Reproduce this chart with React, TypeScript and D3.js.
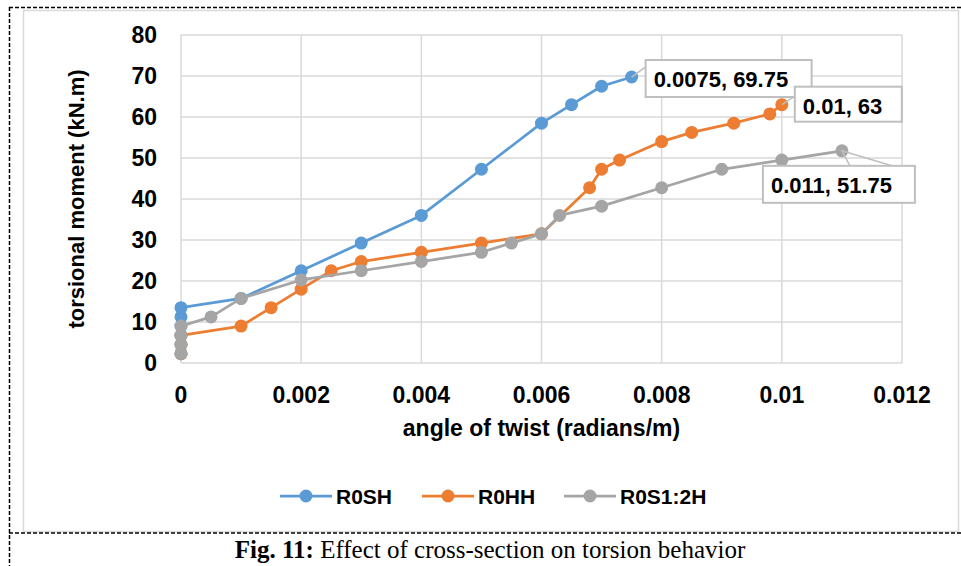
import React from "react";
import * as d3 from "d3";

// torsional moment (kN.m) vs angle of twist (radians/m)
const seriesNames = ["R0SH", "R0HH", "R0S1:2H"];
const seriesColors = ["#5B9BD5", "#ED7D31", "#A5A5A5"];

const twistR0SH = [0, 0, 0, 0, 0, 0, 0.001, 0.002, 0.003, 0.004, 0.005, 0.006, 0.0065, 0.007, 0.0075];
const momentR0SH = [2.25, 4.5, 6.75, 9, 11.25, 13.5, 15.75, 22.5, 29.25, 36, 47.25, 58.5, 63, 67.5, 69.75];

const twistR0HH = [0, 0, 0, 0.001, 0.0015, 0.002, 0.0025, 0.003, 0.004, 0.005, 0.006, 0.0068, 0.007, 0.0073, 0.008, 0.0085, 0.0092, 0.0098, 0.01];
const momentR0HH = [2.25, 4.5, 6.75, 9, 13.5, 18, 22.5, 24.75, 27, 29.25, 31.5, 42.75, 47.25, 49.5, 54, 56.25, 58.5, 60.75, 63];

const twistR0S12H = [0, 0, 0, 0, 0.0005, 0.001, 0.002, 0.003, 0.004, 0.005, 0.0055, 0.006, 0.0063, 0.007, 0.008, 0.009, 0.01, 0.011];
const momentR0S12H = [2.25, 4.5, 6.75, 9, 11.25, 15.75, 20.25, 22.5, 24.75, 27, 29.25, 31.5, 36, 38.25, 42.75, 47.25, 49.5, 51.75];

const xTickValues = [0, 0.002, 0.004, 0.006, 0.008, 0.01, 0.012];
const xTickLabels = ["0", "0.002", "0.004", "0.006", "0.008", "0.01", "0.012"];
const yTickValues = [0, 10, 20, 30, 40, 50, 60, 70, 80];

const endLabels = ["0.0075, 69.75", "0.01, 63", "0.011, 51.75"];

const W = 961;
const H = 566;
const plot = { left: 181, right: 902, top: 35, bottom: 363 };
const sans = "'Liberation Sans', Arial, sans-serif";
const serif = "'Liberation Serif', 'Times New Roman', serif";
const grid = "#d9d9d9";

// callout boxes, placed relative to the last point of each series
const callouts = [
  { dx: 14, dy: -17, w: 166, h: 37, leader: [[1, 6]] },
  { dx: 13, dy: -18, w: 107, h: 35, leader: [[1, 9]] },
  { dx: -79, dy: 15, w: 152, h: 37, leader: [[87, 0], [129, 0]] },
];

export default function App() {
  const x = d3.scaleLinear().domain([0, 0.012]).range([plot.left, plot.right]);
  const y = d3.scaleLinear().domain([0, 80]).range([plot.bottom, plot.top]);

  const series = [
    d3.zip(twistR0SH, momentR0SH),
    d3.zip(twistR0HH, momentR0HH),
    d3.zip(twistR0S12H, momentR0S12H),
  ];

  const line = d3
    .line<number[]>()
    .x((d) => x(d[0]))
    .y((d) => y(d[1]));

  const legendX = [280, 422, 564];
  const legendY = 496;

  return (
    <svg width={W} height={H} style={{ position: "absolute", left: 0, top: 0, background: "#fff" }}>
      <rect x={23.5} y={10.5} width={935} height={521} fill="#fff" stroke={grid} strokeWidth={1.5} />

      {/* gridlines */}
      {yTickValues.map((t) => (
        <line key={"gy" + t} x1={plot.left} x2={plot.right} y1={y(t)} y2={y(t)} stroke={grid} strokeWidth={1.5} />
      ))}
      {xTickValues.map((t) => (
        <line key={"gx" + t} x1={x(t)} x2={x(t)} y1={plot.top} y2={plot.bottom} stroke={grid} strokeWidth={1.5} />
      ))}

      {/* tick labels */}
      {yTickValues.map((t) => (
        <text key={"ty" + t} x={157} y={y(t) + 8} textAnchor="end" fontFamily={sans} fontWeight="bold" fontSize={23} fill="#000">
          {t}
        </text>
      ))}
      {xTickValues.map((t, i) => (
        <text key={"tx" + t} x={x(t)} y={403} textAnchor="middle" fontFamily={sans} fontWeight="bold" fontSize={23} fill="#000">
          {xTickLabels[i]}
        </text>
      ))}

      {/* axis titles */}
      <text x={(plot.left + plot.right) / 2} y={436} textAnchor="middle" fontFamily={sans} fontWeight="bold" fontSize={23} fill="#000">
        angle of twist (radians/m)
      </text>
      <text
        transform={`translate(84,${(plot.top + plot.bottom) / 2}) rotate(-90)`}
        textAnchor="middle"
        fontFamily={sans}
        fontWeight="bold"
        fontSize={22}
        fill="#000"
      >
        torsional moment (kN.m)
      </text>

      {/* series */}
      {series.map((pts, i) => (
        <g key={seriesNames[i]}>
          <path d={line(pts) || ""} fill="none" stroke={seriesColors[i]} strokeWidth={2.75} strokeLinejoin="round" />
          {pts.map((p, j) => (
            <circle key={j} cx={x(p[0])} cy={y(p[1])} r={6.5} fill={seriesColors[i]} />
          ))}
        </g>
      ))}

      {/* end-point callouts */}
      {series.map((pts, i) => {
        const last = pts[pts.length - 1];
        const px = x(last[0]);
        const py = y(last[1]);
        const c = callouts[i];
        const bx = px + c.dx;
        const by = py + c.dy;
        const leaderPts = c.leader.map(([ox, oy]) => [bx + ox, by + oy]);
        const leaderPath =
          leaderPts.length === 1
            ? `M${px},${py}L${leaderPts[0][0]},${leaderPts[0][1]}`
            : `M${leaderPts[0][0]},${leaderPts[0][1]}L${px},${py}L${leaderPts[1][0]},${leaderPts[1][1]}`;
        return (
          <g key={"lab" + i}>
            <path d={leaderPath} fill="none" stroke="#bfbfbf" strokeWidth={1.5} />
            <rect x={bx} y={by} width={c.w} height={c.h} fill="#fff" stroke="#bfbfbf" strokeWidth={2} />
            <text x={bx + 8} y={by + 27} fontFamily={sans} fontWeight="bold" fontSize={22} fill="#000">
              {endLabels[i]}
            </text>
          </g>
        );
      })}

      {/* legend */}
      {seriesNames.map((name, i) => (
        <g key={"leg" + name}>
          <line x1={legendX[i]} x2={legendX[i] + 52} y1={legendY} y2={legendY} stroke={seriesColors[i]} strokeWidth={2.75} />
          <circle cx={legendX[i] + 26} cy={legendY} r={6.5} fill={seriesColors[i]} />
          <text x={legendX[i] + 56} y={legendY + 8} fontFamily={sans} fontWeight="bold" fontSize={21} fill="#000">
            {name}
          </text>
        </g>
      ))}

      {/* page frame */}
      <line x1={9} x2={W} y1={7.5} y2={7.5} stroke="#000" strokeWidth={1.5} strokeDasharray="4 2" />
      <line x1={9.5} x2={9.5} y1={7} y2={H} stroke="#000" strokeWidth={1.5} strokeDasharray="4 2" />
      <line x1={9} x2={W} y1={533} y2={533} stroke="#000" strokeWidth={1.5} strokeDasharray="4 2" />

      {/* caption */}
      <text x={490} y={558} textAnchor="middle" fontFamily={serif} fontSize={25} fill="#000">
        <tspan fontWeight="bold">Fig. 11:</tspan> Effect of cross-section on torsion behavior
      </text>
    </svg>
  );
}
